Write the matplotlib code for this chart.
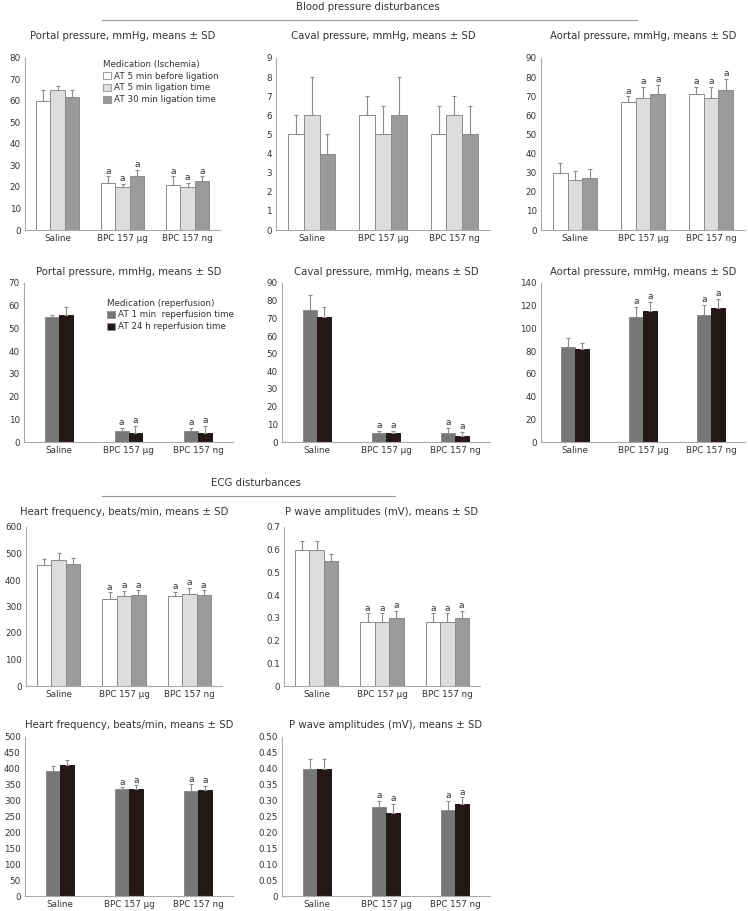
import numpy as np
import matplotlib
matplotlib.use("Agg")
import matplotlib.pyplot as plt
from matplotlib.lines import Line2D
from matplotlib.patches import Patch

plt.rcParams["font.family"] = ["DejaVu Sans"]

W, H = 748, 911

GROUPS = ["Saline", "BPC 157 µg", "BPC 157 ng"]
ISCH_LABELS = ["AT 5 min before ligation", "AT 5 min ligation time", "AT 30 min ligation time"]
REP_LABELS = ["AT 1 min  reperfusion time", "AT 24 h reperfusion time"]
ISCH_COLORS = ["#ffffff", "#dcdddd", "#9b9b9b"]
REP_COLORS = ["#777777", "#231815"]

# one row per series, one column per group
portal_isch_mean = [[60, 22, 21], [65, 20, 20], [62, 25, 23]]
portal_isch_sd = [[5, 3, 4], [2, 1.6, 2], [3, 3, 2]]
caval_isch_mean = [[5, 6, 5], [6, 5, 6], [4, 6, 5]]
caval_isch_sd = [[1, 1, 1.5], [2, 1.5, 1], [1, 2, 1.5]]
aortal_isch_mean = [[30, 67, 71], [26, 69, 69], [27, 71, 73]]
aortal_isch_sd = [[5, 3, 4], [5, 6, 6], [5, 5, 6]]

portal_rep_mean = [[55, 5, 5], [56, 4, 4]]
portal_rep_sd = [[1, 1.2, 1.2], [3.3, 3, 3]]
caval_rep_mean = [[75, 5, 5], [70.5, 5, 3.6]]
caval_rep_sd = [[8, 1.5, 3], [6, 1.5, 2]]
aortal_rep_mean = [[84, 110, 112], [82, 115, 118]]
aortal_rep_sd = [[8, 9, 9], [5, 8.5, 8]]

heart_isch_mean = [[457, 329, 338], [475, 338, 349], [462, 342, 342]]
heart_isch_sd = [[24, 24, 17], [26, 22, 21], [22, 19, 19]]
pwave_isch_mean = [[0.60, 0.28, 0.28], [0.60, 0.28, 0.28], [0.55, 0.30, 0.30]]
pwave_isch_sd = [[0.04, 0.04, 0.04], [0.04, 0.04, 0.04], [0.03, 0.03, 0.03]]

heart_rep_mean = [[393, 335, 329], [412, 338, 333]]
heart_rep_sd = [[16, 7, 22], [16, 10, 14]]
pwave_rep_mean = [[0.40, 0.28, 0.27], [0.40, 0.26, 0.29]]
pwave_rep_sd = [[0.03, 0.02, 0.03], [0.03, 0.03, 0.02]]

# groups that carry the "a" significance mark
MARKED = [False, True, True]
UNMARKED = [False, False, False]

TITLE_PORTAL = "Portal pressure, mmHg, means ± SD"
TITLE_CAVAL = "Caval pressure, mmHg, means ± SD"
TITLE_AORTAL = "Aortal pressure, mmHg, means ± SD"
TITLE_HEART = "Heart frequency, beats/min, means ± SD"
TITLE_PWAVE = "P wave amplitudes (mV), means ± SD"

TXT = "#333333"
AXC = "#aaaaaa"


def make_ax(fig, x0, x1, y0, y1):
    return fig.add_axes([x0 / W, 1 - y1 / H, (x1 - x0) / W, (y1 - y0) / H])


def fmt_tick(v, dec):
    if abs(v) < 1e-12:
        return "0"
    return f"{v:.{dec}f}"


def draw_panel(ax, means, sds, colors, bar_w, ymax, ystep, dec, marks, title, title_y):
    means = np.array(means, dtype=float)
    sds = np.array(sds, dtype=float)
    n = means.shape[0]
    x = np.arange(len(GROUPS))
    for k in range(n):
        pos = x + (k - (n - 1) / 2) * bar_w
        ec = "#1a1a1a" if colors[k] == "#231815" else "#8c8c8c"
        ax.bar(pos, means[k], width=bar_w, color=colors[k], edgecolor=ec,
               linewidth=0.7, zorder=2)
        ax.errorbar(pos, means[k], yerr=[np.zeros(len(x)), sds[k]], fmt="none",
                    ecolor="#8c8c8c", elinewidth=0.8, capsize=1.2, capthick=0.8,
                    zorder=3)
        for j in range(len(x)):
            if marks[j]:
                ax.annotate("a", (pos[j], means[k][j] + sds[k][j]),
                            xytext=(0, 0.5), textcoords="offset points",
                            ha="center", va="bottom", fontsize=6.5, color=TXT)
    ax.set_xlim(-0.5, len(GROUPS) - 0.5)
    ax.set_ylim(0, ymax)
    ticks = np.arange(0, ymax + ystep / 2, ystep)
    ax.set_yticks(ticks)
    ax.set_yticklabels([fmt_tick(t, dec) for t in ticks])
    ax.set_xticks(x)
    ax.set_xticklabels(GROUPS)
    ax.tick_params(length=0, labelsize=6.3, labelcolor=TXT, pad=3)
    for s in ["top", "right"]:
        ax.spines[s].set_visible(False)
    for s in ["left", "bottom"]:
        ax.spines[s].set_color(AXC)
        ax.spines[s].set_linewidth(0.8)
    bb = ax.get_position()
    fig.text(bb.x0 + bb.width / 2, 1 - title_y / H, title, ha="center", va="center",
             fontsize=7.3, color=TXT)


def add_legend(ax, labels, colors, title, y_anchor):
    handles = [Patch(facecolor=c, edgecolor="#8c8c8c", linewidth=0.6) for c in colors]
    leg = ax.legend(handles, labels, title=title, loc="upper left",
                    bbox_to_anchor=(0.37, y_anchor), frameon=False, fontsize=6.3,
                    title_fontsize=6.3, handlelength=0.85, handleheight=0.85,
                    handletextpad=0.4, labelspacing=0.32, borderpad=0.2,
                    alignment="left")
    for t in leg.get_texts():
        t.set_color(TXT)
    leg.get_title().set_color(TXT)


fig = plt.figure(figsize=(W / 100, H / 100), dpi=100)
fig.patch.set_facecolor("white")

# section headers
fig.text(368 / W, 1 - 7 / H, "Blood pressure disturbances", ha="center", va="center",
         fontsize=7.3, color=TXT)
fig.add_artist(Line2D([102 / W, 637 / W], [1 - 20 / H, 1 - 20 / H],
                      transform=fig.transFigure, color="#999999", linewidth=0.8))
fig.text(256 / W, 1 - 483 / H, "ECG disturbances", ha="center", va="center",
         fontsize=7.3, color=TXT)
fig.add_artist(Line2D([102 / W, 395 / W], [1 - 496 / H, 1 - 496 / H],
                      transform=fig.transFigure, color="#999999", linewidth=0.8))

# row 1: ischemia, blood pressure
ax = make_ax(fig, 25, 220, 58, 230)
draw_panel(ax, portal_isch_mean, portal_isch_sd, ISCH_COLORS, 0.22, 80, 10, 0,
           MARKED, TITLE_PORTAL, 36)
add_legend(ax, ISCH_LABELS, ISCH_COLORS, "Medication (Ischemia)", 1.025)

ax = make_ax(fig, 276, 490, 58, 230)
draw_panel(ax, caval_isch_mean, caval_isch_sd, ISCH_COLORS, 0.22, 9, 1, 0,
           UNMARKED, TITLE_CAVAL, 36)

ax = make_ax(fig, 541, 745, 58, 230)
draw_panel(ax, aortal_isch_mean, aortal_isch_sd, ISCH_COLORS, 0.22, 90, 10, 0,
           MARKED, TITLE_AORTAL, 36)

# row 2: reperfusion, blood pressure
ax = make_ax(fig, 24, 233, 283, 442)
draw_panel(ax, portal_rep_mean, portal_rep_sd, REP_COLORS, 0.2, 70, 10, 0,
           MARKED, TITLE_PORTAL, 272)
add_legend(ax, REP_LABELS, REP_COLORS, "Medication (reperfusion)", 0.94)

ax = make_ax(fig, 282, 490, 283, 442)
draw_panel(ax, caval_rep_mean, caval_rep_sd, REP_COLORS, 0.2, 90, 10, 0,
           MARKED, TITLE_CAVAL, 272)

ax = make_ax(fig, 541, 745, 283, 442)
draw_panel(ax, aortal_rep_mean, aortal_rep_sd, REP_COLORS, 0.2, 140, 20, 0,
           MARKED, TITLE_AORTAL, 272)

# row 3: ischemia, ECG
ax = make_ax(fig, 26, 222, 527, 686)
draw_panel(ax, heart_isch_mean, heart_isch_sd, ISCH_COLORS, 0.22, 600, 100, 0,
           MARKED, TITLE_HEART, 512)

ax = make_ax(fig, 284, 480, 527, 686)
draw_panel(ax, pwave_isch_mean, pwave_isch_sd, ISCH_COLORS, 0.22, 0.7, 0.1, 1,
           MARKED, TITLE_PWAVE, 512)

# row 4: reperfusion, ECG
ax = make_ax(fig, 25, 233, 737, 896)
draw_panel(ax, heart_rep_mean, heart_rep_sd, REP_COLORS, 0.2, 500, 50, 0,
           MARKED, TITLE_HEART, 725)

ax = make_ax(fig, 282, 490, 737, 896)
draw_panel(ax, pwave_rep_mean, pwave_rep_sd, REP_COLORS, 0.2, 0.5, 0.05, 2,
           MARKED, TITLE_PWAVE, 725)

fig.savefig("out.png", dpi=100, facecolor="white")
